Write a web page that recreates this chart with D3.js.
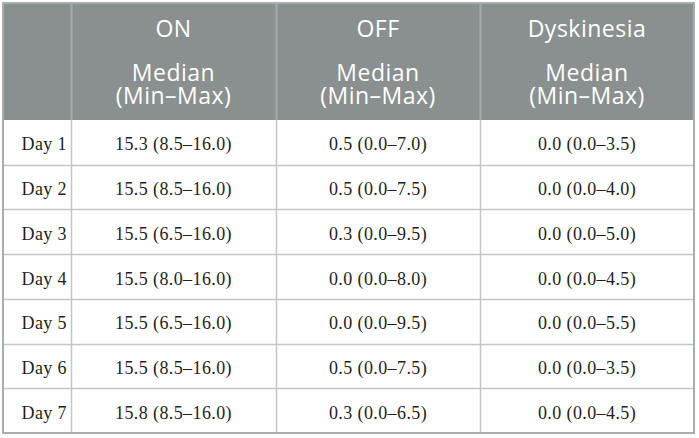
<!DOCTYPE html>
<html>
<head>
<meta charset="utf-8">
<script src="https://cdn.jsdelivr.net/npm/d3@7"></script>
<style>
  html, body { margin: 0; padding: 0; background: #fff; }
  svg { display: block; }
  .head text { font-family: "Open Sans", "Noto Sans", sans-serif; font-size: 23px; fill: #fff; letter-spacing: 0.5px; }
  .body text { font-family: "Liberation Serif", "Times New Roman", serif; font-size: 18px; fill: #231f20; letter-spacing: 0.4px; }
</style>
</head>
<body>
<svg width="699" height="438"></svg>
<script>
// table content
const days = ["Day 1", "Day 2", "Day 3", "Day 4", "Day 5", "Day 6", "Day 7"]
const groups = ["ON", "OFF", "Dyskinesia"]
const subHead = ["Median", "(Min–Max)"]

const onValues = ["15.3 (8.5–16.0)", "15.5 (8.5–16.0)", "15.5 (6.5–16.0)", "15.5 (8.0–16.0)", "15.5 (6.5–16.0)", "15.5 (8.5–16.0)", "15.8 (8.5–16.0)"]
const offValues = ["0.5 (0.0–7.0)", "0.5 (0.0–7.5)", "0.3 (0.0–9.5)", "0.0 (0.0–8.0)", "0.0 (0.0–9.5)", "0.5 (0.0–7.5)", "0.3 (0.0–6.5)"]
const dysValues = ["0.0 (0.0–3.5)", "0.0 (0.0–4.0)", "0.0 (0.0–5.0)", "0.0 (0.0–4.5)", "0.0 (0.0–5.5)", "0.0 (0.0–3.5)", "0.0 (0.0–4.5)"]

const svg = d3.select("svg")

// layout
const tLeft = 3, tRight = 694, tTop = 3, headBottom = 120, tBottom = 433
const colEdges = [tLeft, 71, 276, 480, tRight]

const scaleY = d3.scaleBand()
    .domain(days)
    .range([headBottom, tBottom])

const rows = days.map((d, i) => ({day: d, cells: [onValues[i], offValues[i], dysValues[i]]}))

// header background
svg.append("rect")
    .attr("x", tLeft)
    .attr("y", tTop)
    .attr("width", tRight - tLeft)
    .attr("height", headBottom - tTop)
    .attr("fill", "#8a8f90")

// body lines
const grid = svg.append("g").attr("class", "grid")

grid.selectAll("line.row")
    .data(days.slice(1))
    .enter()
    .append("line")
    .attr("class", "row")
    .attr("x1", tLeft)
    .attr("x2", tRight)
    .attr("y1", d => Math.round(scaleY(d)) + 0.5)
    .attr("y2", d => Math.round(scaleY(d)) + 0.5)
    .attr("stroke", "#c4c6c5")
    .attr("stroke-width", 1.5)

grid.selectAll("line.col")
    .data(colEdges.slice(1, -1))
    .enter()
    .append("line")
    .attr("class", "col")
    .attr("x1", d => d + 0.5)
    .attr("x2", d => d + 0.5)
    .attr("y1", tTop)
    .attr("y2", tBottom)
    .attr("stroke", "#c4c6c5")
    .attr("stroke-width", 1.5)

// header column separators a bit lighter on grey
grid.selectAll("line.hcol")
    .data(colEdges.slice(1, -1))
    .enter()
    .append("line")
    .attr("class", "hcol")
    .attr("x1", d => d + 0.5)
    .attr("x2", d => d + 0.5)
    .attr("y1", tTop)
    .attr("y2", headBottom)
    .attr("stroke", "#a3a7a8")
    .attr("stroke-width", 1.5)

// outer border
svg.append("rect")
    .attr("x", tLeft)
    .attr("y", tTop)
    .attr("width", tRight - tLeft)
    .attr("height", tBottom - tTop)
    .attr("fill", "none")
    .attr("stroke", "#a9adab")
    .attr("stroke-width", 2)

// header text
const head = svg.append("g").attr("class", "head")

groups.forEach((g, i) => {
    const cx = (colEdges[i + 1] + colEdges[i + 2]) / 2
    head.append("text")
        .attr("x", cx)
        .attr("y", 37)
        .attr("text-anchor", "middle")
        .text(g)
    subHead.forEach((s, j) => {
        head.append("text")
            .attr("x", cx)
            .attr("y", 81 + j * 23)
            .attr("text-anchor", "middle")
            .text(s)
    })
})

// body text
const body = svg.append("g").attr("class", "body")

const rowG = body.selectAll("g.r")
    .data(rows)
    .enter()
    .append("g")
    .attr("class", "r")
    .attr("transform", d => `translate(0, ${scaleY(d.day) + scaleY.bandwidth() / 2 + 8})`)

rowG.append("text")
    .attr("x", colEdges[1] - 4)
    .attr("text-anchor", "end")
    .text(d => d.day)

rowG.selectAll("text.cell")
    .data(d => d.cells)
    .enter()
    .append("text")
    .attr("class", "cell")
    .attr("x", (d, i) => (colEdges[i + 1] + colEdges[i + 2]) / 2)
    .attr("text-anchor", "middle")
    .text(d => d)
</script>
</body>
</html>
